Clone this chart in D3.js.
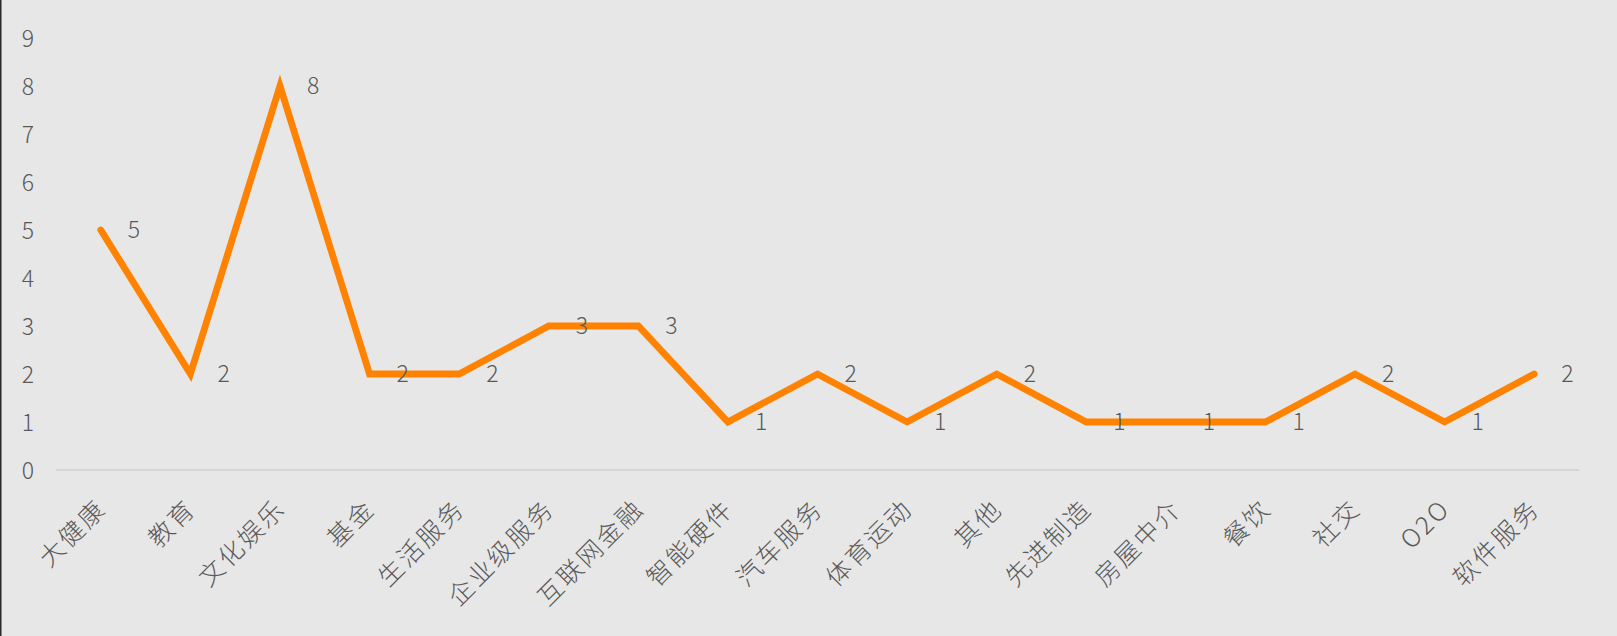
<!DOCTYPE html>
<html>
<head>
<meta charset="utf-8">
<script src="https://cdn.jsdelivr.net/npm/d3@7"></script>
<style>
  html, body { margin: 0; padding: 0; background: #e7e7e7; }
  svg { display: block; }
  text { font-family: "Noto Sans CJK SC", "Noto Sans", sans-serif; font-weight: 300; fill: #595959; }
</style>
</head>
<body>
<svg id="chart" width="1617" height="636"></svg>
<script>
const categories = ["大健康", "教育", "文化娱乐", "基金", "生活服务", "企业级服务", "互联网金融", "智能硬件", "汽车服务", "体育运动", "其他", "先进制造", "房屋中介", "餐饮", "社交", "O2O", "软件服务"];
const counts = [5, 2, 8, 2, 2, 3, 3, 1, 2, 1, 2, 1, 1, 1, 2, 1, 2];
const yTicks = [0, 1, 2, 3, 4, 5, 6, 7, 8, 9];

const W = 1617, H = 636;
const plot = { left: 56, right: 1579, top: 38, bottom: 470 };

const svg = d3.select("#chart");
svg.append("rect").attr("width", W).attr("height", H).attr("fill", "#e7e7e7");
svg.append("rect").attr("x", 0).attr("y", 0).attr("width", 1.5).attr("height", H).attr("fill", "#2a2a2a");

const x = d3.scaleBand().domain(categories).range([plot.left, plot.right]);
const y = d3.scaleLinear().domain([0, 9]).range([plot.bottom, plot.top]);

// Y axis labels
const yAxis = svg.append("g").attr("transform", `translate(34,0)`)
  .call(d3.axisLeft(y).tickValues(yTicks).tickSize(0).tickPadding(0).tickFormat(d3.format("d")));
yAxis.select(".domain").remove();
yAxis.selectAll("text").attr("font-size", 23).attr("dy", "0.35em")
  .style("font-family", '"Noto Sans CJK SC", "Noto Sans", sans-serif').style("fill", "#595959");

// X axis baseline
svg.append("line").attr("x1", plot.left).attr("x2", plot.right)
  .attr("y1", y(0)).attr("y2", y(0)).attr("stroke", "#d6d6d6").attr("stroke-width", 2);

// X axis labels
const xAxis = svg.append("g").attr("transform", `translate(0,${y(0)})`)
  .call(d3.axisBottom(x).tickSize(0).tickPadding(0));
xAxis.select(".domain").remove();
xAxis.selectAll("text")
  .attr("font-size", 25)
  .attr("y", 0).attr("dy", "0.35em")
  .attr("text-anchor", "end")
  .style("letter-spacing", "2.5px")
  .attr("transform", "translate(1,34) rotate(-45)")
  .style("font-family", '"Noto Sans CJK SC", "Noto Sans", sans-serif').style("fill", "#595959");

// Line
const cx = d => x(d) + x.bandwidth() / 2;
const line = d3.line().x((d, i) => cx(categories[i])).y(d => y(d));
svg.append("path").datum(counts).attr("d", line)
  .attr("fill", "none").attr("stroke", "#ff8200").attr("stroke-width", 6.8)
  .attr("stroke-linejoin", "miter").attr("stroke-linecap", "round");

// Data labels
svg.append("g").selectAll("text").data(counts).join("text")
  .attr("x", (d, i) => cx(categories[i]) + 27)
  .attr("y", d => y(d))
  .attr("dy", "0.35em")
  .attr("font-size", 23)
  .text(d => d);
</script>
</body>
</html>
